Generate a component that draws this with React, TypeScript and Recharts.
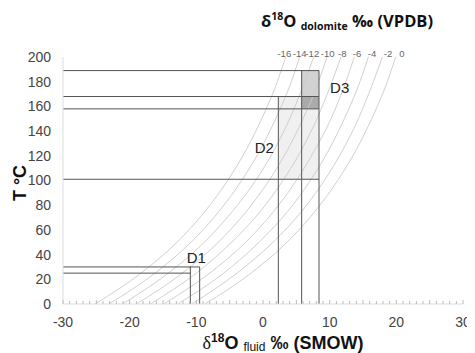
import React from 'react';
import { ComposedChart, Line, XAxis, YAxis, ReferenceLine, ReferenceArea, Scatter } from 'recharts';

// Temperature steps (°C) at which each dolomite isopleth was read
const temps = [0, 25, 50, 75, 100, 125, 150, 175, 200];
// δ18O fluid (‰ SMOW) read along each dolomite isopleth (‰ VPDB)
const dolM16 = [-25.2, -18.3, -12.9, -8.7, -5.3, -2.5, -0.2, 1.8, 3.4];
const dolM14 = [-23.1, -16.2, -10.8, -6.6, -3.2, -0.4, 1.9, 3.9, 5.5];
const dolM12 = [-21.1, -14.2, -8.8, -4.6, -1.1, 1.7, 4.0, 5.9, 7.6];
const dolM10 = [-19.0, -12.1, -6.7, -2.5, 0.9, 3.7, 6.0, 8.0, 9.6];
const dolM8 = [-16.9, -10.0, -4.7, -0.4, 3.0, 5.8, 8.1, 10.0, 11.7];
const dolM6 = [-14.9, -8.0, -2.6, 1.6, 5.0, 7.8, 10.2, 12.1, 13.7];
const dolM4 = [-12.8, -5.9, -0.6, 3.7, 7.1, 9.9, 12.2, 14.2, 15.8];
const dolM2 = [-10.7, -3.9, 1.5, 5.8, 9.2, 12.0, 14.3, 16.2, 17.9];
const dol0 = [-8.7, -1.8, 3.6, 7.8, 11.2, 14.0, 16.3, 18.3, 19.9];

const dolomiteNames = ['-16', '-14', '-12', '-10', '-8', '-6', '-4', '-2', '0'];
const dolomiteCurves = [dolM16, dolM14, dolM12, dolM10, dolM8, dolM6, dolM4, dolM2, dol0];
const dolomiteLabelX = [3.2, 5.5, 7.4, 9.7, 11.9, 14.1, 16.35, 18.75, 20.85];

// Boxes (fluid ‰ SMOW, T °C)
const d1Fluid = [-10.9, -9.5];
const d1Temp = [25, 30];
const d2Fluid = [2.3, 8.4];
const d2Temp = [101, 168];
const d3Fluid = [5.8, 8.4];
const d3Temp = [158, 168, 189];

const boxNames = ['D1', 'D2', 'D3'];
const boxLabelX = [-10.0, 0.2, 11.5];
const boxLabelT = [37, 126.5, 175];

const xMin = -30;
const xMax = 30;
const yMin = 0;
const yMax = 200;
const xLabelTicks = [-30, -20, -10, 0, 10, 20, 30];
const yTicks = [0, 20, 40, 60, 80, 100, 120, 140, 160, 180, 200];
const xMinorTicks = Array.from({ length: 61 }, (_, i) => i - 30);

const curveSeries = dolomiteCurves.map((arr, i) => ({
  name: dolomiteNames[i],
  data: arr.map((x, j) => ({ x, T: temps[j] })),
}));

const dolLabelData = dolomiteNames.map((n, i) => ({ x: dolomiteLabelX[i], T: yMax, lab: n }));
const boxLabelData = boxNames.map((n, i) => ({ x: boxLabelX[i], T: boxLabelT[i], lab: n }));

type Seg = { x1: number; y1: number; x2: number; y2: number };
const segments: Seg[] = [
  { x1: xMin, y1: d1Temp[1], x2: d1Fluid[1], y2: d1Temp[1] },
  { x1: xMin, y1: d1Temp[0], x2: d1Fluid[0], y2: d1Temp[0] },
  { x1: d1Fluid[0], y1: yMin, x2: d1Fluid[0], y2: d1Temp[1] },
  { x1: d1Fluid[1], y1: yMin, x2: d1Fluid[1], y2: d1Temp[1] },
  { x1: xMin, y1: d3Temp[2], x2: d3Fluid[1], y2: d3Temp[2] },
  { x1: xMin, y1: d3Temp[1], x2: d3Fluid[1], y2: d3Temp[1] },
  { x1: xMin, y1: d3Temp[0], x2: d3Fluid[1], y2: d3Temp[0] },
  { x1: xMin, y1: d2Temp[0], x2: d2Fluid[1], y2: d2Temp[0] },
  { x1: d2Fluid[0], y1: yMin, x2: d2Fluid[0], y2: d2Temp[1] },
  { x1: d3Fluid[0], y1: yMin, x2: d3Fluid[0], y2: d3Temp[2] },
  { x1: d3Fluid[1], y1: yMin, x2: d3Fluid[1], y2: d3Temp[2] },
];

const tickFont = '"Liberation Sans", Arial, sans-serif';

const XTick = (props: any) => {
  const { x, y, payload } = props;
  const v = payload.value;
  const major = xLabelTicks.includes(v);
  return (
    <g>
      <line x1={x} x2={x} y1={y - (v % 5 === 0 ? 4 : 3)} y2={y} stroke="#bbb" strokeWidth={1} />
      {major && (
        <text x={x} y={y + 23} textAnchor="middle" fontSize={14} fontFamily={tickFont} fill="#444">
          {v}
        </text>
      )}
    </g>
  );
};

const DolLabel = (props: any) => (
  <text x={props.cx} y={props.cy} textAnchor="middle" fontSize={9.5} fontFamily={tickFont} fill="#666">
    {props.payload.lab}
  </text>
);

const BoxLabel = (props: any) => (
  <text x={props.cx} y={props.cy + 5} textAnchor="middle" fontSize={15} fontFamily={tickFont} fill="#222">
    {props.payload.lab}
  </text>
);

export default function App() {
  return (
    <div style={{ position: 'relative', width: 467, height: 345 }}>
      <ComposedChart width={467} height={345} margin={{ top: 49, right: 12, bottom: 19, left: 10 }}>
        <XAxis
          type="number"
          dataKey="x"
          domain={[xMin, xMax]}
          ticks={xMinorTicks}
          interval={0}
          tickLine={false}
          tickSize={0}
          tickMargin={0}
          height={30}
          axisLine={{ stroke: '#ddd' }}
          tick={<XTick />}
        />
        <YAxis
          type="number"
          dataKey="T"
          domain={[yMin, yMax]}
          ticks={yTicks}
          interval={0}
          tickLine={false}
          tickSize={0}
          tickMargin={12}
          width={45}
          axisLine={{ stroke: '#ddd' }}
          tick={{ fontSize: 14, fontFamily: tickFont, fill: '#444' }}
        />
        <ReferenceArea x1={d2Fluid[0]} x2={d2Fluid[1]} y1={d2Temp[0]} y2={d2Temp[1]} fill="#f0f0f0" fillOpacity={1} stroke="none" />
        <ReferenceArea x1={d3Fluid[0]} x2={d3Fluid[1]} y1={d3Temp[1]} y2={d3Temp[2]} fill="#d2d2d2" fillOpacity={1} stroke="none" />
        <ReferenceArea x1={d3Fluid[0]} x2={d3Fluid[1]} y1={d3Temp[0]} y2={d3Temp[1]} fill="#ababab" fillOpacity={1} stroke="none" />
        {curveSeries.map((s) => (
          <Line
            key={s.name}
            data={s.data}
            dataKey="T"
            type="monotone"
            stroke="#cbcbcb"
            strokeWidth={0.9}
            dot={false}
            activeDot={false}
            isAnimationActive={false}
          />
        ))}
        {segments.map((s, i) => (
          <ReferenceLine
            key={i}
            segment={[{ x: s.x1, y: s.y1 }, { x: s.x2, y: s.y2 }]}
            stroke="#555"
            strokeWidth={1}
          />
        ))}
        <Scatter data={dolLabelData} shape={<DolLabel />} isAnimationActive={false} />
        <Scatter data={boxLabelData} shape={<BoxLabel />} isAnimationActive={false} />
      </ComposedChart>
      <div
        style={{
          position: 'absolute', left: 239, top: 2, width: 200, textAlign: 'center',
          fontFamily: '"Open Sans", sans-serif', fontWeight: 'bold', fontSize: 16.5, lineHeight: '22px',
          color: '#111', whiteSpace: 'nowrap',
        }}
      >
        δ<span style={{ fontSize: 10.5, position: 'relative', top: -7 }}>18</span>O{' '}
        <span style={{ fontSize: 10.5, position: 'relative', top: 3 }}>dolomite</span> ‰ (VPDB)
      </div>
      <div
        style={{
          position: 'absolute', left: 175, top: 324, width: 200, textAlign: 'center',
          fontFamily: '"Liberation Sans", Arial, sans-serif', fontWeight: 'bold', fontSize: 18, lineHeight: '22px',
          color: '#111', whiteSpace: 'nowrap',
        }}
      >
        <span style={{ fontFamily: '"Liberation Serif", serif', fontWeight: 'normal' }}>δ</span>
        <span style={{ fontSize: 12, position: 'relative', top: -7 }}>18</span>O{' '}
        <span style={{ fontSize: 12, position: 'relative', top: 2, fontWeight: 'normal' }}>fluid</span> ‰ (SMOW)
      </div>
      <div
        style={{
          position: 'absolute', left: 12, top: 175, width: 0, height: 0,
        }}
      >
        <div
          style={{
            position: 'absolute', left: -40, top: -11, width: 80, textAlign: 'center',
            transform: 'rotate(-90deg)', fontFamily: '"Liberation Sans", Arial, sans-serif',
            fontWeight: 'bold', fontSize: 18, lineHeight: '22px', color: '#111', whiteSpace: 'nowrap',
          }}
        >
          T °C
        </div>
      </div>
    </div>
  );
}
